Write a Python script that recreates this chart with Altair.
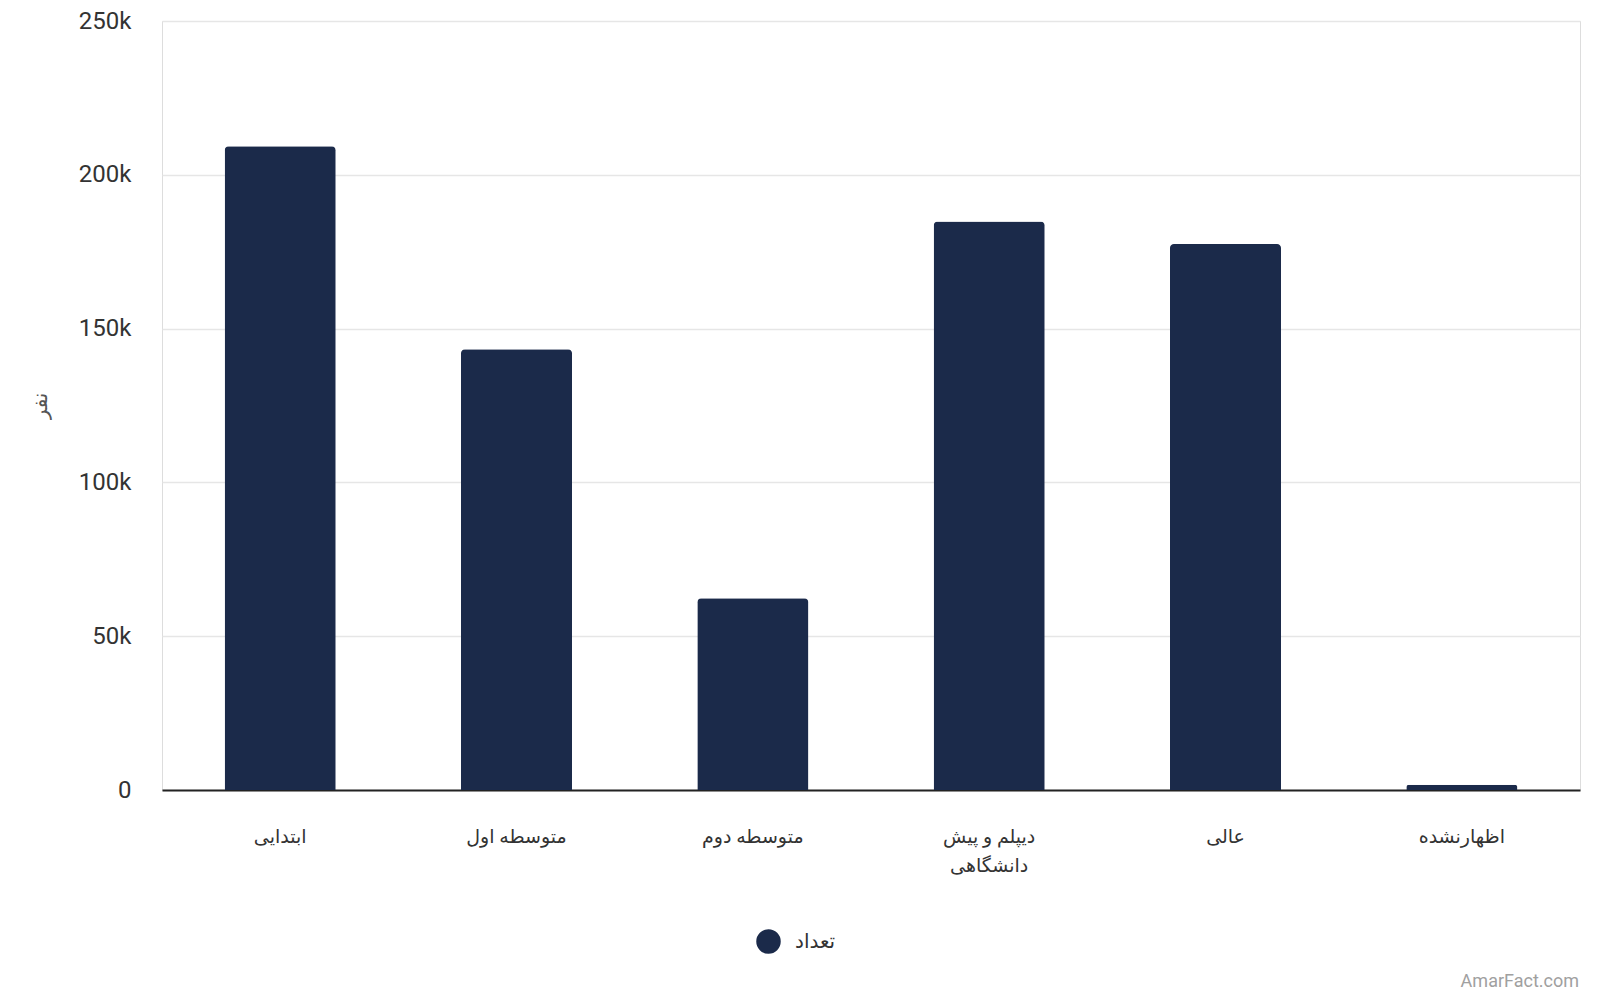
import altair as alt
import pandas as pd

categories = ["ابتدایی", "متوسطه اول", "متوسطه دوم", "دیپلم و پیش\nدانشگاهی", "عالی", "اظهارنشده"]
values = [209300, 143300, 62300, 184800, 177500, 1700]
series_name = "تعداد"
y_title = "نفر"
y_ticks = [0, 50000, 100000, 150000, 200000, 250000]
watermark = "AmarFact.com"

df = pd.DataFrame({"category": categories, "value": values, "series": [series_name] * len(categories)})

W, H = 1418, 769
FONT = "Roboto, 'DejaVu Sans', sans-serif"

bars = alt.Chart(df).mark_bar(cornerRadiusTopLeft=4, cornerRadiusTopRight=4).encode(
    x=alt.X("category:N", sort=categories,
            scale=alt.Scale(paddingInner=0.53, paddingOuter=0.265),
            axis=alt.Axis(title=None, labelAngle=0, labelFontSize=19, labelColor="#333333",
                          labelPadding=37, ticks=False, domainColor="#222222", domainWidth=2,
                          labelExpr="split(datum.label, '\\n')", labelLineHeight=29,
                          labelFont=FONT, grid=False)),
    y=alt.Y("value:Q", scale=alt.Scale(domain=[0, 250000], nice=False),
            axis=alt.Axis(title=y_title, values=y_ticks,
                          labelExpr="datum.value == 0 ? '0' : format(datum.value / 1000, 'd') + 'k'",
                          labelFontSize=24, labelColor="#333333", labelPadding=31, ticks=False,
                          domain=False, gridColor="#e6e6e6", gridWidth=1.5, titleFontSize=20,
                          titleColor="#555555", titleFontWeight="normal", titleX=-112,
                          titleFont=FONT, labelFont=FONT)),
    color=alt.Color("series:N", scale=alt.Scale(range=["#1b2a4a"]),
                    legend=alt.Legend(title=None, orient="none", legendX=594, legendY=908,
                                      symbolType="circle", symbolSize=600, symbolOpacity=1,
                                      labelFontSize=20, labelColor="#333333", labelFont=FONT,
                                      symbolStrokeWidth=0, labelOffset=14)),
)

wm = alt.Chart(pd.DataFrame({"t": [watermark]})).mark_text(
    align="right", baseline="middle", fontSize=18, color="#a0a0a0", font=FONT
).encode(text="t:N", x=alt.value(W - 1), y=alt.value(961))

chart = alt.layer(bars, wm).properties(
    width=W, height=H,
    autosize=alt.AutoSizeParams(type="none"),
    padding={"left": 154, "top": 13, "right": 12, "bottom": 208},
).configure_view(stroke=None).configure(font=FONT)

chart.save("out.html", embed_options={"renderer": "svg", "actions": False})
